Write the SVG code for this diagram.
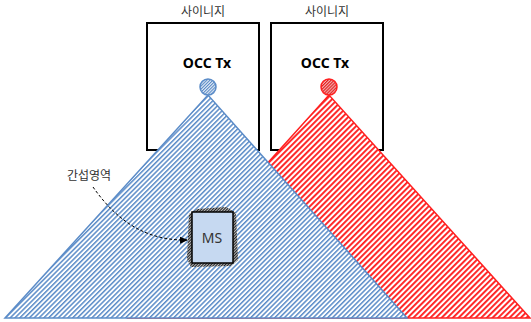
<svg xmlns="http://www.w3.org/2000/svg" width="531" height="322" viewBox="0 0 531 322">
<style>
.box{fill:#fff;stroke:#000;stroke-width:2}
.lbl{font-family:"Noto Sans CJK KR","Noto Sans",sans-serif;font-size:12px;fill:#333;text-anchor:middle}
.tx{font-family:"Noto Sans","Liberation Sans",sans-serif;font-size:14px;font-weight:bold;fill:#000;text-anchor:middle}
.ms{font-family:"Noto Sans","Liberation Sans",sans-serif;font-size:14px;fill:#333;text-anchor:middle}
</style>
<defs>
<pattern id="hb" width="3.4" height="3.4" patternUnits="userSpaceOnUse" patternTransform="rotate(45)">
<rect width="3.4" height="3.4" fill="#fff"/>
<rect width="1.5" height="3.4" fill="#5b8cc8"/>
</pattern>
<pattern id="hr" width="4" height="4" patternUnits="userSpaceOnUse" patternTransform="rotate(45)">
<rect width="4" height="4" fill="#fff"/>
<rect width="1.9" height="4" fill="#ff2020"/>
</pattern>
<pattern id="hbc" width="2.2" height="2.2" patternUnits="userSpaceOnUse" patternTransform="rotate(45)">
<rect width="2.2" height="2.2" fill="#dce6f2"/>
<rect width="1" height="2.2" fill="#5b8cc8"/>
</pattern>
<pattern id="hrc" width="2.2" height="2.2" patternUnits="userSpaceOnUse" patternTransform="rotate(45)">
<rect width="2.2" height="2.2" fill="#f4b0b0"/>
<rect width="1" height="2.2" fill="#e01010"/>
</pattern>
<pattern id="hk" width="2" height="2" patternUnits="userSpaceOnUse" patternTransform="rotate(45)">
<rect width="2" height="2" fill="#bbb"/>
<rect width="1" height="2" fill="#222"/>
</pattern>
<marker id="ar" markerWidth="8" markerHeight="8" refX="7" refY="4" orient="auto" markerUnits="userSpaceOnUse">
<path d="M0,0.5 L8,4 L0,7.5 Z" fill="#000"/>
</marker>
</defs>
<g id="signage1">
<text class="lbl" x="203" y="16">사이니지</text>
<rect class="box" x="147" y="23" width="112" height="127"/>
<text class="tx" x="207" y="68">OCC Tx</text>
</g>
<g id="signage2">
<text class="lbl" x="327" y="16">사이니지</text>
<rect class="box" x="271" y="23" width="112" height="127"/>
<text class="tx" x="325" y="68">OCC Tx</text>
</g>
<g id="red-coverage">
<polygon points="329,95 128,318 530,318" fill="url(#hr)" stroke="#ff2020" stroke-width="1.5"/>
<circle cx="329" cy="87" r="8" fill="url(#hrc)" stroke="#ff2020" stroke-width="1.5"/>
</g>
<g id="blue-coverage">
<polygon points="208,95 5,318 407,318" fill="url(#hb)" stroke="#5b8cc8" stroke-width="1.5"/>
<circle cx="208" cy="87" r="8" fill="url(#hbc)" stroke="#5b8cc8" stroke-width="1.5"/>
</g>
<g id="ms">
<polygon points="197,209 226,207 236,213 238,260 231,266 191,267 187,259 189,214" fill="url(#hk)"/>
<rect x="192" y="212" width="41" height="51" fill="#c6d9f1" stroke="#000" stroke-width="1.5"/>
<text class="ms" x="212" y="243">MS</text>
</g>
<g id="interference-label">
<text class="lbl" x="89" y="180" font-size="13">간섭영역</text>
</g>
<g id="connectors">
<path d="M93,187 C112,214 140,241 187,240" fill="none" stroke="#000" stroke-width="1" stroke-dasharray="3,2" marker-end="url(#ar)"/>
</g>
</svg>
